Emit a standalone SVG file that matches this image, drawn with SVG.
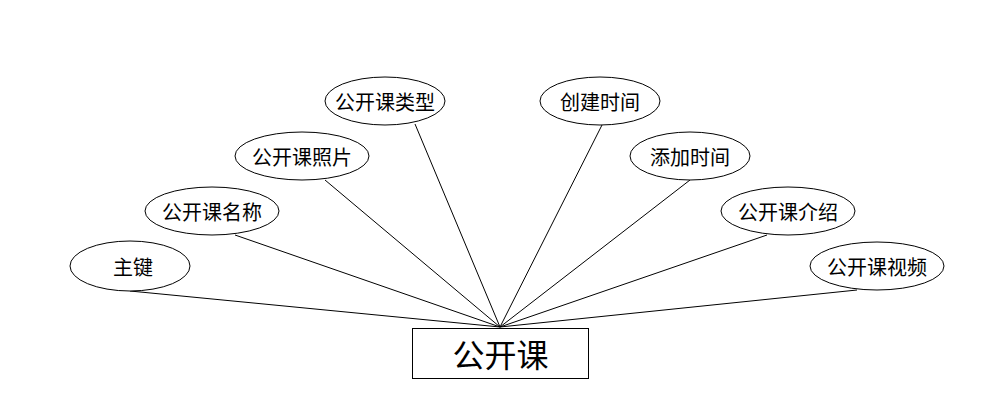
<svg xmlns="http://www.w3.org/2000/svg" width="1000" height="408" viewBox="0 0 1000 408">
<style>
.e{fill:#fff;stroke:#000;stroke-width:1}
.t{font-family:"Microsoft YaHei","Noto Sans CJK SC",sans-serif;font-size:20px;fill:#000;text-anchor:middle;dominant-baseline:central}
.c line{stroke:#000;stroke-width:1}
</style>
<rect width="1000" height="408" fill="#fff"/>
<g class="c" id="connectors">
<line x1="130" y1="291" x2="500" y2="327"/>
<line x1="235" y1="235" x2="500" y2="327"/>
<line x1="325" y1="180" x2="500" y2="327"/>
<line x1="415" y1="124" x2="500" y2="327"/>
<line x1="602" y1="125" x2="500" y2="327"/>
<line x1="690" y1="180" x2="500" y2="327"/>
<line x1="767" y1="235" x2="500" y2="327"/>
<line x1="857" y1="290" x2="500" y2="327"/>
</g>
<g id="entity">
<rect x="412.5" y="328.5" width="176" height="50" fill="#fff" stroke="#000"/>
<text class="t" x="500.5" y="353" style="font-size:32px">公开课</text>
</g>
<g id="a1"><ellipse class="e" cx="130" cy="266" rx="60" ry="25"/><text class="t" x="133" y="266">主键</text></g>
<g id="a2"><ellipse class="e" cx="212" cy="211" rx="67" ry="24"/><text class="t" x="212" y="211">公开课名称</text></g>
<g id="a3"><ellipse class="e" cx="302" cy="156" rx="67" ry="24"/><text class="t" x="302" y="156">公开课照片</text></g>
<g id="a4"><ellipse class="e" cx="385" cy="101" rx="60" ry="24"/><text class="t" x="385" y="101">公开课类型</text></g>
<g id="a5"><ellipse class="e" cx="600" cy="101" rx="60" ry="24"/><text class="t" x="600" y="101">创建时间</text></g>
<g id="a6"><ellipse class="e" cx="690" cy="156" rx="60" ry="24"/><text class="t" x="690" y="156">添加时间</text></g>
<g id="a7"><ellipse class="e" cx="788" cy="211" rx="67" ry="24"/><text class="t" x="788" y="211">公开课介绍</text></g>
<g id="a8"><ellipse class="e" cx="877" cy="266" rx="67" ry="24"/><text class="t" x="877" y="266">公开课视频</text></g>
</svg>
